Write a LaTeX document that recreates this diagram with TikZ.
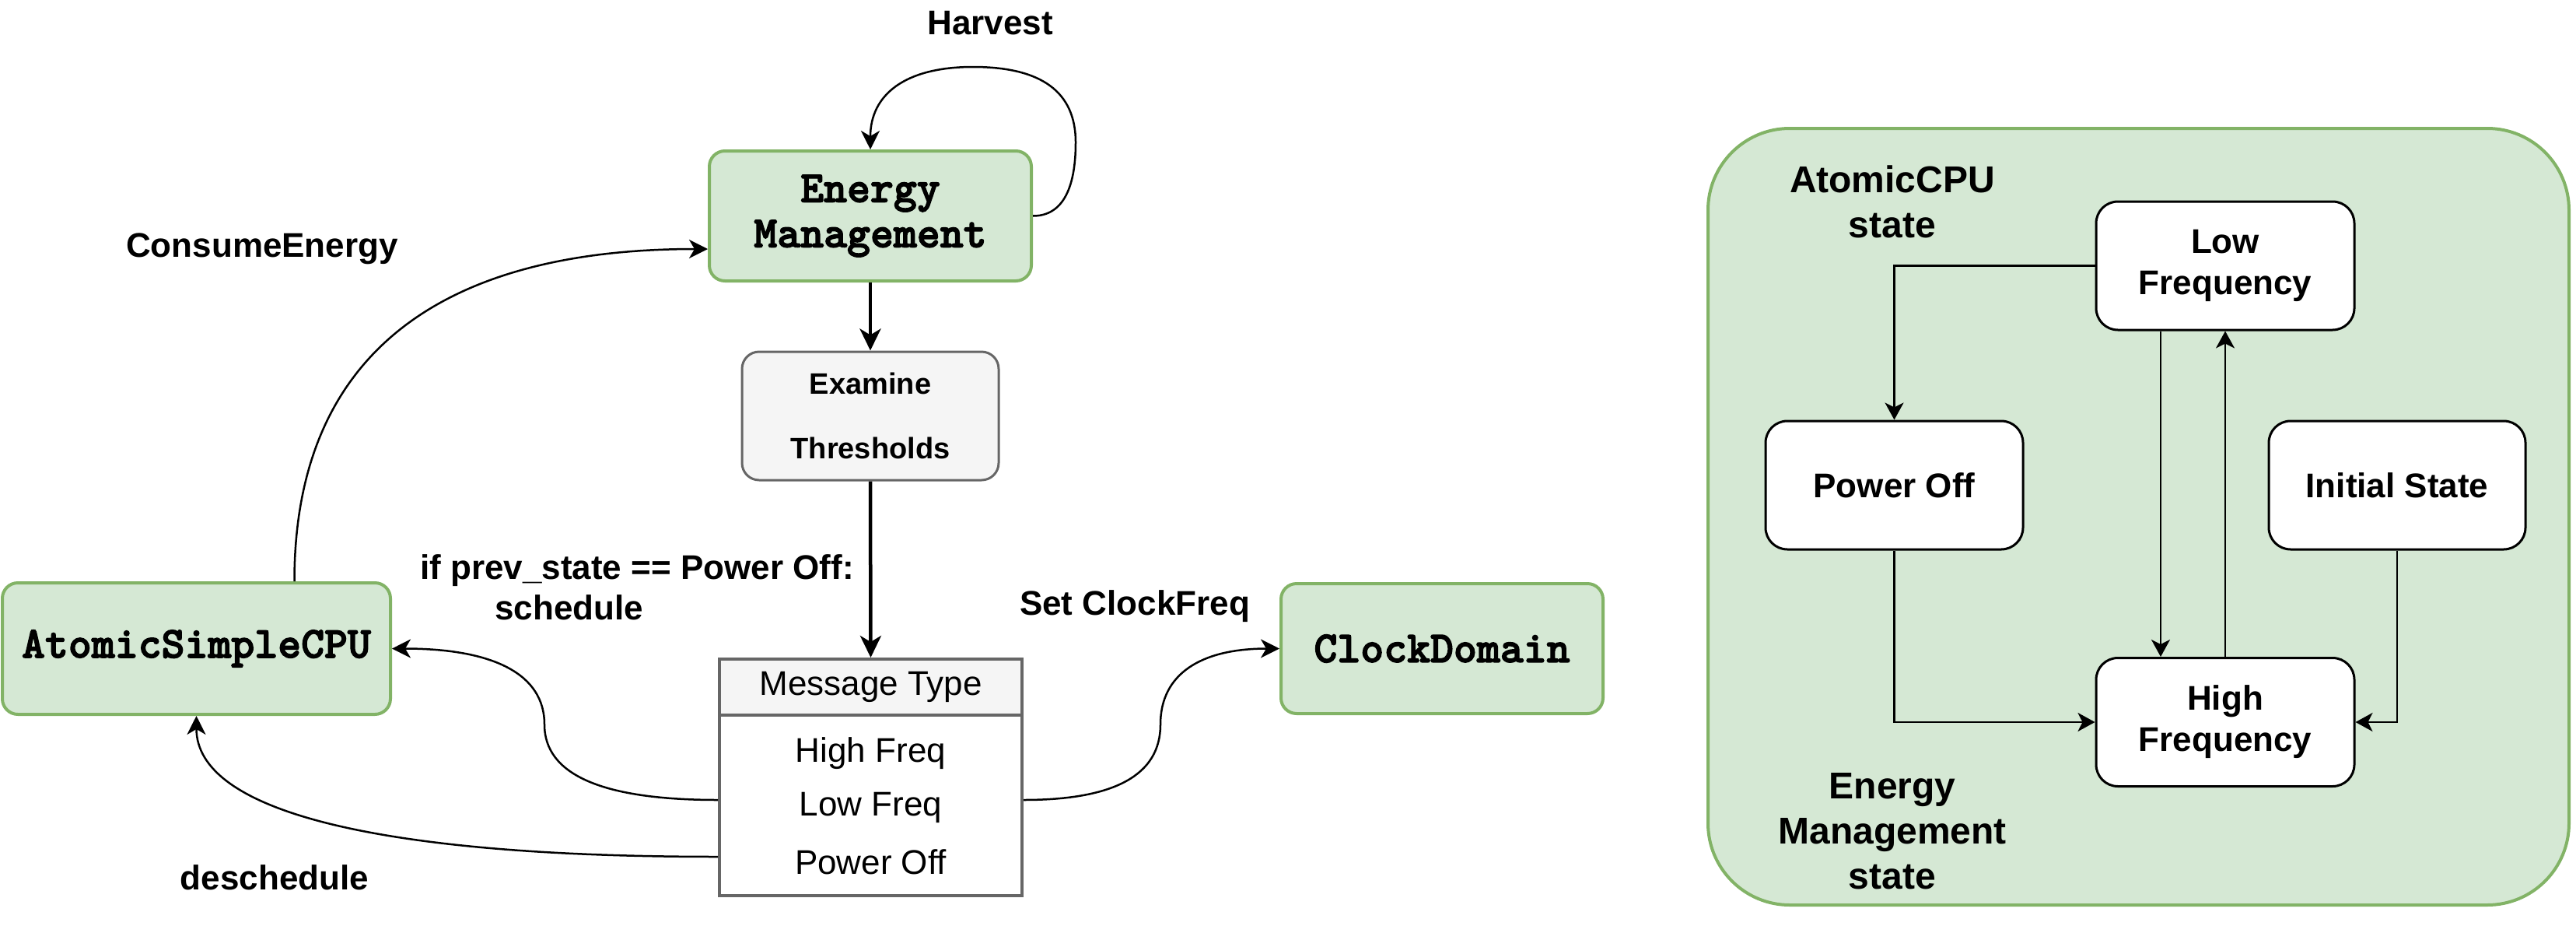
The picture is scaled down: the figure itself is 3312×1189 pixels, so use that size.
\documentclass[tikz,border=0pt]{standalone}
\usepackage{fontspec}
\setmainfont{Liberation Sans}
\newfontfamily\monof{lmmonolt10-bold}[Extension=.otf, FakeBold=2.5]
\usetikzlibrary{arrows.meta,calc}
\definecolor{gfill}{HTML}{D5E8D4}
\definecolor{gline}{HTML}{82B366}
\definecolor{lgray}{HTML}{F5F5F5}
\definecolor{dgray}{HTML}{666666}
\newcommand{\fsz}[2]{\fontsize{#1}{#2}\selectfont}
\begin{document}
\begin{tikzpicture}[x=1pt,y=-1pt,
  greenbox/.style={draw=gline, fill=gfill, line width=4pt, rounded corners=20pt, inner sep=0pt, align=center,
    font=\monof\fsz{57}{58}, minimum width=414pt, minimum height=167pt},
  graybox/.style={draw=dgray, fill=lgray, line width=3pt, rounded corners=22pt, inner sep=0pt, align=center,
    font=\bfseries\fsz{38}{83}, minimum width=330pt, minimum height=165pt},
  tabbox/.style={draw=dgray, fill=white, line width=4pt, inner sep=0pt, minimum width=389pt, minimum height=304pt},
  hdrbox/.style={draw=dgray, fill=lgray, line width=4pt, inner sep=0pt, minimum width=389pt, minimum height=72pt, font=\fsz{44}{53}},
  rowtxt/.style={inner sep=0pt, font=\fsz{44}{53}},
  lbl/.style={inner sep=0pt, font=\bfseries\fsz{44}{52}, align=center},
  plbl/.style={inner sep=0pt, font=\bfseries\fsz{48}{58}, align=center},
  panel/.style={draw=gline, fill=gfill, line width=4pt, rounded corners=105pt, minimum width=1107pt, minimum height=998pt},
  statebox/.style={draw=black, fill=white, line width=3pt, rounded corners=28pt, inner sep=0pt, align=center,
    font=\bfseries\fsz{44}{53}, minimum width=332pt, minimum height=165pt},
  conn/.style={line width=2.5pt, -{Stealth[length=24pt,width=24pt,inset=7pt]}},
  thickconn/.style={line width=4.5pt, -{Stealth[length=28pt,width=27pt,inset=8pt]}},
  pconn/.style={line width=2.5pt, -{Stealth[length=22pt,width=24pt,inset=6pt]}}
]
\useasboundingbox (0,0) rectangle (3312,1189);

% ---------- left part ----------
\node[greenbox] (em) at (1119,277.5) {Energy\\Management};
\node[graybox] (ex) at (1119,534.5) {Examine\\Thresholds};
\node[tabbox] (tab) at (1119.5,999) {};
\node[hdrbox] (hdr) at (1119.5,883) {Message Type};
\node[rowtxt] (r1) at (1119.5,968) {High Freq};
\node[rowtxt] (r2) at (1119.5,1038) {Low Freq};
\node[rowtxt] (r3) at (1119.5,1108) {Power Off};
\node[greenbox, minimum width=499pt, minimum height=169pt] (cpu) at (252.5,833.5) {AtomicSimpleCPU};
\node[greenbox] (clk) at (1854,833.5) {ClockDomain};

\node[lbl] (lharv) at (1273,30) {Harvest};
\node[lbl] (lcons) at (337,320) {ConsumeEnergy};
\node[lbl, align=left, anchor=west] (lsched) at (540,754.5) {if prev\_state == Power Off:\\\hspace*{96pt}schedule};
\node[lbl] (lclk) at (1459,779) {Set ClockFreq};
\node[lbl] (ldesch) at (353,1128) {deschedule};

\draw[thickconn] (em.south) -- (ex.north);
\draw[thickconn] (ex.south) -- (hdr.north);

% Harvest loop
\draw[conn] (em.east) .. controls (1364,277.5) and (1383,246) .. (1383,183)
  .. controls (1383,118) and (1339,86) .. (1251,86)
  .. controls (1163,86) and (1119,122) .. (em.north);
% ConsumeEnergy
\draw[conn] ($(cpu.north)+(126,0)$) .. controls (378.5,463) and (557,320) .. ($(em.west)+(0,42.5)$);
% schedule
\draw[conn] ($(tab.west)+(0,29)$) .. controls (775,1028) and (700,996) .. (700,931)
  .. controls (700,866) and (634,833.5) .. (cpu.east);
% deschedule
\draw[conn] ($(tab.west)+(0,102)$) .. controls (474,1101) and (252.5,1040) .. (cpu.south);
% Set ClockFreq
\draw[conn] ($(tab.east)+(0,29)$) .. controls (1433,1028) and (1492,996) .. (1492,931)
  .. controls (1492,866) and (1544,833.5) .. (clk.west);

% ---------- right panel ----------
\node[panel] (panel) at (2749.5,664) {};
\node[plbl] (lacpu) at (2433,259) {AtomicCPU\\state};
\node[plbl] (lem) at (2433,1068.5) {Energy\\Management\\state};
\node[statebox] (lf) at (2861,341.5) {Low\\Frequency};
\node[statebox, minimum width=331pt] (po) at (2435.5,623.5) {Power Off};
\node[statebox, minimum width=330pt] (is) at (3082,623.5) {Initial State};
\node[statebox] (hf) at (2861,928) {High\\Frequency};

\draw[pconn] (lf.west) -| (po.north);
\draw[pconn] ($(lf.south)+(-83,0)$) -- ($(hf.north)+(-83,0)$);
\draw[pconn] (hf.north) -- (lf.south);
\draw[pconn] (po.south) |- (hf.west);
\draw[pconn] (is.south) |- (hf.east);
\end{tikzpicture}
\end{document}
